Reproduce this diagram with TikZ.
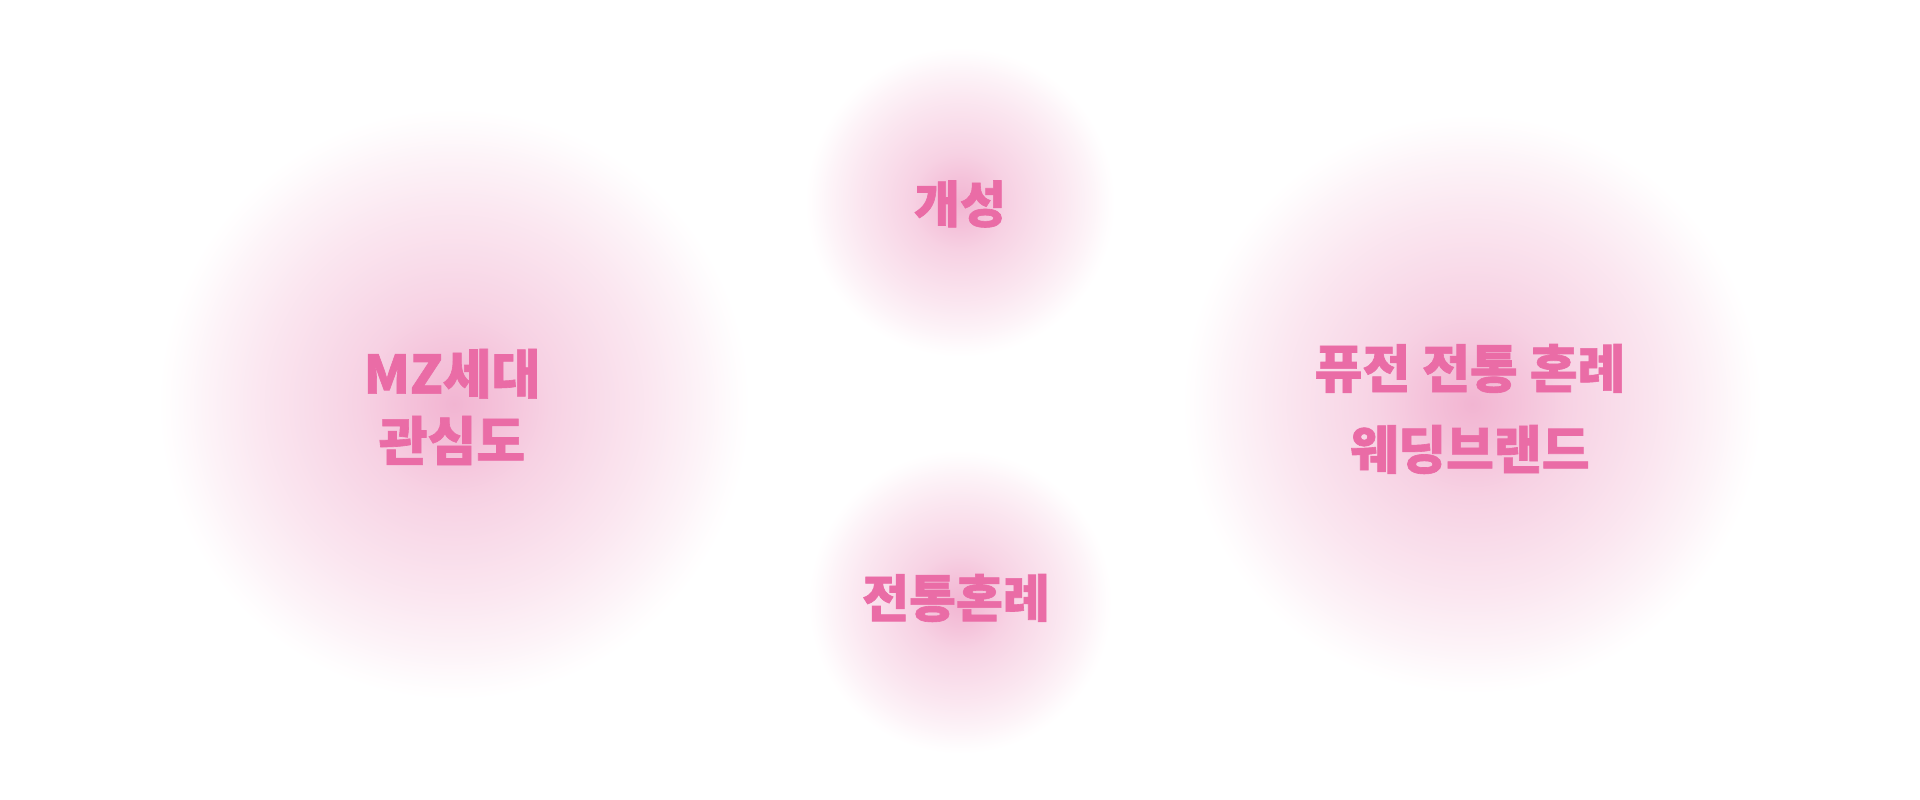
\documentclass[tikz,border=0pt]{standalone}
\usepackage{fontspec}
\newfontfamily\kr{Noto Sans CJK KR}[BoldFeatures={FakeBold=1.2}]
\definecolor{blobc}{RGB}{242,181,210}
\definecolor{txtc}{RGB}{234,108,166}
\pgfdeclareradialshading{blob}{\pgfpoint{0bp}{0bp}}{color(0bp)=(blobc); color(4bp)=(blobc!82!white); color(8bp)=(blobc!61!white); color(12.5bp)=(blobc!46!white); color(16.5bp)=(blobc!33!white); color(21bp)=(blobc!16!white); color(23.5bp)=(blobc!5!white); color(25bp)=(white); color(50bp)=(white)}
\begin{document}
\begin{tikzpicture}[x=1pt,y=-1pt,
  lbl/.style={text=txtc, align=center, inner sep=0pt},
  lblL/.style={lbl, font=\kr\bfseries\fontsize{53}{67}\selectfont},
  lblT/.style={lbl, font=\kr\bfseries\fontsize{50}{60}\selectfont},
  lblB/.style={lbl, font=\kr\bfseries\fontsize{51}{60}\selectfont},
  lblR/.style={lbl, font=\kr\bfseries\fontsize{52}{81}\selectfont}]
\useasboundingbox[fill=white] (0,0) rectangle (1920,800);
\shade[shading=blob] (454,404) circle (296);
\shade[shading=blob] (1472,404) circle (290);
\shade[shading=blob] (960,202) circle (155);
\shade[shading=blob] (960,602) circle (152);
\node[lblL] (mz) at (452,407) {MZ세대\\관심도};
\node[lblT] (gaeseong) at (960,204) {개성};
\node[lblB] (jeontong) at (956,598) {전통혼례};
\node[lblR] (fusion) at (1470,409) {퓨전 전통 혼례\\웨딩브랜드};
\end{tikzpicture}
\end{document}
